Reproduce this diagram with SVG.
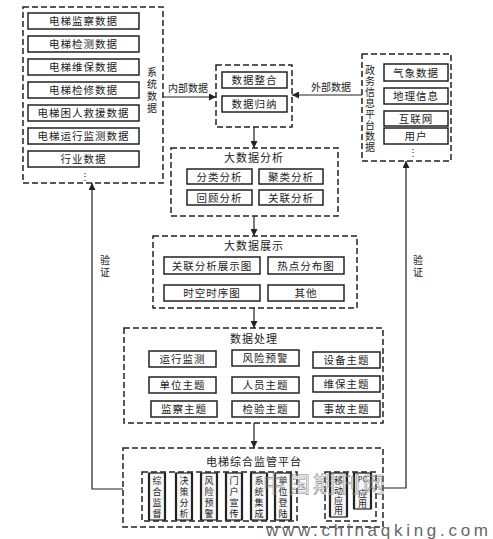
<svg xmlns="http://www.w3.org/2000/svg" width="493" height="539" viewBox="0 0 493 539">
<defs>
<marker id="arr" viewBox="0 0 8 8" refX="8" refY="4" markerWidth="7" markerHeight="7" orient="auto" markerUnits="userSpaceOnUse">
<path d="M0,0 L8,4 L0,8 z" fill="#222"/>
</marker>
<style>
text{font-family:"Noto Sans CJK SC","Noto Sans",sans-serif;fill:#222;}
.dash{fill:none;stroke:#222;stroke-width:1.5;stroke-dasharray:6 3;}
.box{fill:#fff;stroke:#222;stroke-width:1.5;}
.vbox{fill:#f6f6f6;stroke:#222;stroke-width:1.2;}
.side{fill:none;stroke:#222;stroke-width:2.2;}
.t{font-size:10.5px;text-anchor:middle;letter-spacing:1px;}
.tt{font-size:11px;text-anchor:middle;letter-spacing:1px;}
.v{font-size:10px;text-anchor:middle;}
.vt{font-size:10px;writing-mode:vertical-rl;letter-spacing:2px;}
.vb{font-size:9px;writing-mode:vertical-rl;letter-spacing:2px;}
.lbl{font-size:10px;text-anchor:middle;}
.ln{fill:none;stroke:#222;stroke-width:1.2;}
</style>
</defs>
<rect width="493" height="539" fill="#fff"/>

<g id="system-data">
<rect class="dash" x="23" y="7" width="140" height="176"/>
<rect class="box" x="28" y="13" width="111" height="16"/><text class="t" x="83.5" y="25">电梯监察数据</text>
<rect class="box" x="28" y="36" width="111" height="16"/><text class="t" x="83.5" y="48">电梯检测数据</text>
<rect class="box" x="28" y="59" width="111" height="16"/><text class="t" x="83.5" y="71">电梯维保数据</text>
<rect class="box" x="28" y="82" width="111" height="16"/><text class="t" x="83.5" y="94">电梯检修数据</text>
<rect class="box" x="28" y="105" width="111" height="16"/><text class="t" x="83.5" y="117">电梯困人救援数据</text>
<rect class="box" x="28" y="128" width="111" height="16"/><text class="t" x="83.5" y="140">电梯运行监测数据</text>
<rect class="box" x="28" y="151" width="111" height="16"/><text class="t" x="83.5" y="163">行业数据</text>
<text class="v" x="85" y="180">⋮</text>
<text class="vt" x="152" y="67">系统数据</text>
</g>

<g id="integration">
<rect class="dash" x="216" y="65" width="76" height="62"/>
<rect class="box" x="222" y="72" width="65" height="16"/><text class="t" x="254.5" y="84">数据整合</text>
<rect class="box" x="222" y="96" width="65" height="16"/><text class="t" x="254.5" y="108">数据归纳</text>
</g>

<g id="gov-data">
<rect class="dash" x="362" y="54" width="89" height="107"/>
<rect class="box" x="384" y="64" width="64" height="17"/><text class="t" x="416" y="76.5">气象数据</text>
<rect class="box" x="384" y="88" width="64" height="16"/><text class="t" x="416" y="100">地理信息</text>
<rect class="box" x="384" y="111" width="64" height="15"/><text class="t" x="416" y="122.5">互联网</text>
<rect class="box" x="384" y="128" width="64" height="16"/><text class="t" x="416" y="140">用户</text>
<text class="v" x="413" y="156">⋮</text>
<text class="vt" x="370" y="65" style="letter-spacing:1.1px">政务信息平台数据</text>
</g>

<g id="analysis">
<rect class="dash" x="171" y="148" width="167" height="68"/>
<text class="tt" x="254" y="162">大数据分析</text>
<rect class="box" x="187" y="169" width="65" height="15"/><text class="t" x="219.5" y="180.5">分类分析</text>
<rect class="box" x="259" y="169" width="64" height="15"/><text class="t" x="291" y="180.5">聚类分析</text>
<rect class="box" x="187" y="190" width="65" height="15"/><text class="t" x="219.5" y="201.5">回顾分析</text>
<rect class="box" x="259" y="190" width="64" height="15"/><text class="t" x="291" y="201.5">关联分析</text>
</g>

<g id="display">
<rect class="dash" x="153" y="236" width="204" height="72"/>
<text class="tt" x="254" y="250">大数据展示</text>
<rect class="box" x="164" y="257" width="96" height="17"/><text class="t" x="212" y="269.5">关联分析展示图</text>
<rect class="box" x="268" y="257" width="76" height="17"/><text class="t" x="306" y="269.5">热点分布图</text>
<rect class="box" x="164" y="285" width="96" height="16"/><text class="t" x="212" y="297">时空时序图</text>
<rect class="box" x="268" y="285" width="76" height="16"/><text class="t" x="306" y="297">其他</text>
</g>

<g id="processing">
<rect class="dash" x="124" y="328" width="259" height="95"/>
<text class="tt" x="254" y="343">数据处理</text>
<rect class="box" x="149" y="351" width="67" height="16"/><text class="t" x="182.5" y="363">运行监测</text>
<rect class="box" x="232" y="350" width="67" height="16"/><text class="t" x="265.5" y="362">风险预警</text>
<rect class="box" x="313" y="352" width="67" height="16"/><text class="t" x="346.5" y="364">设备主题</text>
<rect class="box" x="149" y="377" width="67" height="16"/><text class="t" x="182.5" y="389">单位主题</text>
<rect class="box" x="232" y="377" width="67" height="16"/><text class="t" x="265.5" y="389">人员主题</text>
<rect class="box" x="313" y="376" width="67" height="16"/><text class="t" x="346.5" y="388">维保主题</text>
<rect class="box" x="151" y="401" width="66" height="16"/><text class="t" x="184" y="413">监察主题</text>
<rect class="box" x="232" y="401" width="67" height="16"/><text class="t" x="265.5" y="413">检验主题</text>
<rect class="box" x="313" y="401" width="67" height="16"/><text class="t" x="346.5" y="413">事故主题</text>
</g>

<g id="platform">
<rect class="dash" x="123" y="448" width="260" height="79"/>
<text class="tt" x="254" y="466">电梯综合监管平台</text>
<rect class="dash" x="142" y="472" width="155" height="49"/>
<g id="m-zhjd">
<rect class="vbox" x="149" y="473" width="16" height="47"/><path class="side" d="M149,473V520M165,473V520"/>
<text class="vb" x="157" y="476">综合监督</text>
</g>
<g id="m-jcfx">
<rect class="vbox" x="176" y="473" width="16" height="47"/><path class="side" d="M176,473V520M192,473V520"/>
<text class="vb" x="184" y="476">决策分析</text>
</g>
<g id="m-fxyj">
<rect class="vbox" x="201" y="473" width="16" height="47"/><path class="side" d="M201,473V520M217,473V520"/>
<text class="vb" x="209" y="476">风险预警</text>
</g>
<g id="m-mhxc">
<rect class="vbox" x="226" y="473" width="16" height="47"/><path class="side" d="M226,473V520M242,473V520"/>
<text class="vb" x="234" y="476">门户宣传</text>
</g>
<g id="m-xtjc">
<rect class="vbox" x="251" y="473" width="16" height="47"/><path class="side" d="M251,473V520M267,473V520"/>
<text class="vb" x="259" y="476">系统集成</text>
</g>
<g id="m-dwdl">
<rect class="vbox" x="275" y="473" width="16" height="47"/><path class="side" d="M275,473V520M291,473V520"/>
<text class="vb" x="283" y="476">单位登陆</text>
</g>
<rect class="dash" x="325" y="472" width="51" height="49"/>
<g id="m-ydyy">
<rect class="vbox" x="330" y="473" width="17" height="44"/><path class="side" d="M330,473V517M347,473V517"/>
<text class="vb" x="338.5" y="476" style="letter-spacing:1px">移动应用</text>
</g>
<g id="m-pc">
<rect class="vbox" x="354" y="473" width="17" height="36"/><path class="side" d="M354,473V509M371,473V509"/>
<text x="362.5" y="481.5" style="font-size:7px;text-anchor:middle">PC</text>
<text class="vb" x="362.5" y="489" style="letter-spacing:1px">应用</text>
</g>
</g>

<g id="connectors">
<line class="ln" x1="163" y1="97" x2="216" y2="97" marker-end="url(#arr)"/>
<text class="lbl" x="188" y="92">内部数据</text>
<line class="ln" x1="362" y1="95" x2="292" y2="95" marker-end="url(#arr)"/>
<text class="lbl" x="331" y="91">外部数据</text>
<line class="ln" x1="254" y1="127" x2="254" y2="148" marker-end="url(#arr)"/>
<line class="ln" x1="254" y1="216" x2="254" y2="236" marker-end="url(#arr)"/>
<line class="ln" x1="254" y1="308" x2="254" y2="328" marker-end="url(#arr)"/>
<line class="ln" x1="254" y1="423" x2="254" y2="448" marker-end="url(#arr)"/>
<polyline class="ln" points="123,489 92,489 92,183" marker-end="url(#arr)"/>
<text class="vt" x="105" y="255">验证</text>
<polyline class="ln" points="383,488 406,488 406,161" marker-end="url(#arr)"/>
<text class="vt" x="418" y="255">验证</text>
</g>

<g id="watermark">
<text x="263" y="492" style="font-size:22px;fill:none;stroke:#888;stroke-width:0.6;letter-spacing:3px">中国期刊网</text>
<text x="266" y="536" textLength="222" lengthAdjust="spacing" style="font-family:'Liberation Sans',sans-serif;font-size:17px;fill:#666">www.chinaqking.com</text>
</g>
</svg>
